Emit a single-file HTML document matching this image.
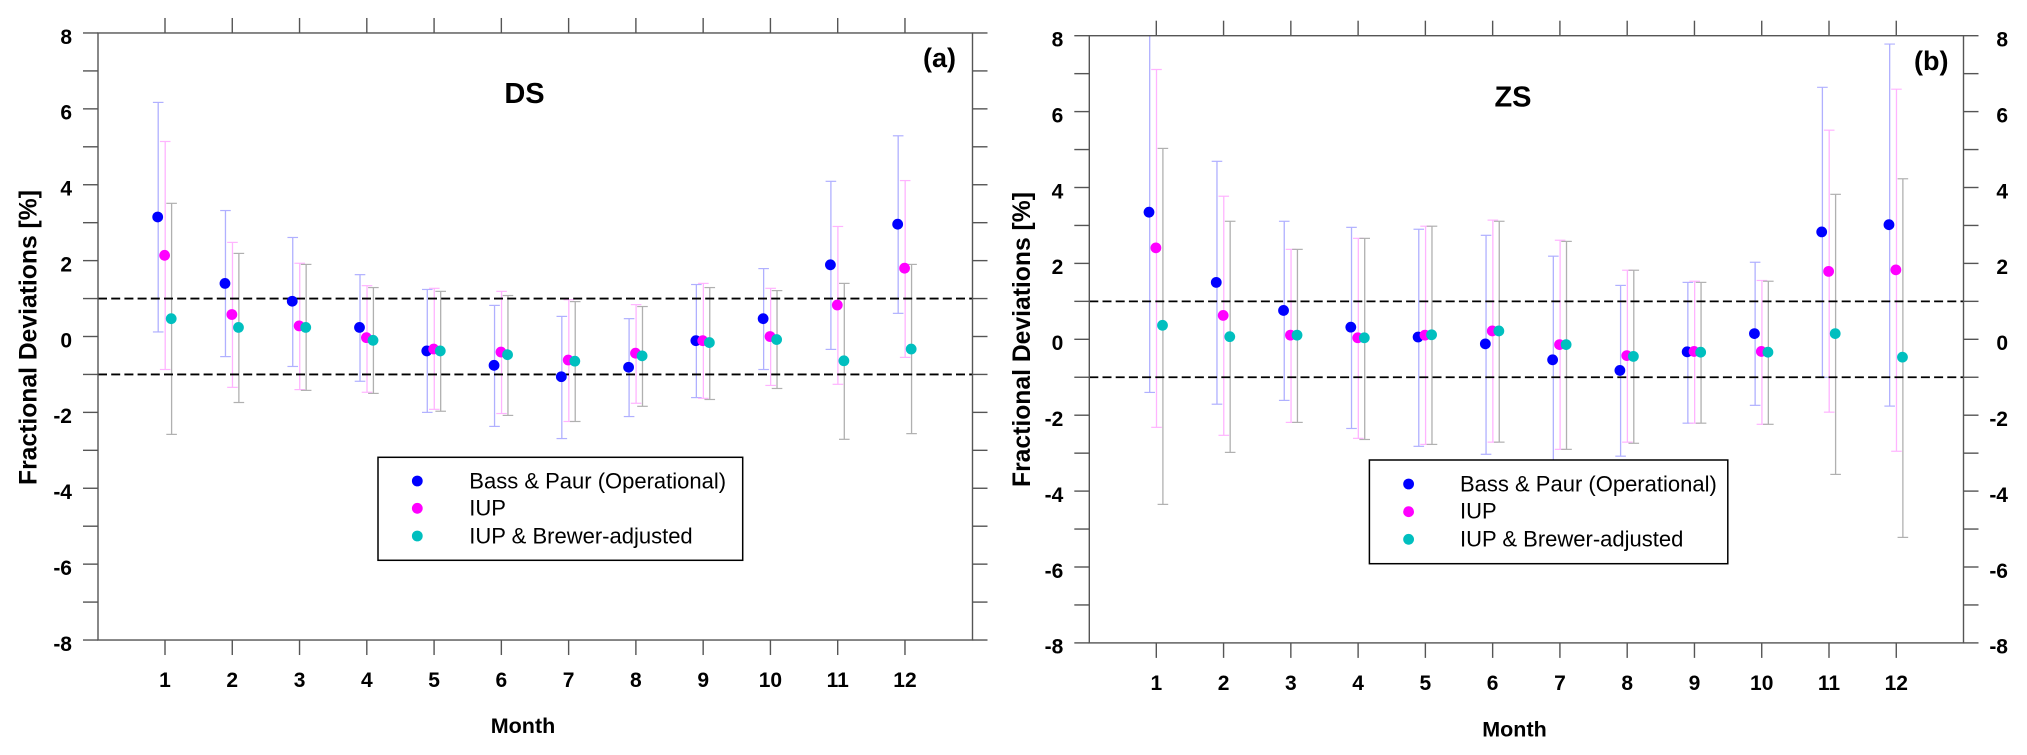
<!DOCTYPE html>
<html lang="en">
<head>
<meta charset="utf-8">
<title>Fractional Deviations by Month: DS and ZS</title>
<style>
  html, body { margin: 0; padding: 0; background: #fff; }
  svg { display: block; }
  text { font-family: "Liberation Sans", Arial, sans-serif; fill: #000; }
  .b { font-weight: bold; }
</style>
</head>
<body>
<svg id="figure" xmlns="http://www.w3.org/2000/svg" width="2027" height="755" viewBox="0 0 2027 755">
  <defs>
    <clipPath id="clip-a"><rect x="98" y="33" width="874.5" height="607"/></clipPath>
    <clipPath id="clip-b"><rect x="1089.3" y="35.3" width="874.2" height="607.4"/></clipPath>
  </defs>
  <g id="panel-a"></g>
  <g id="panel-b"></g>

  <g>
    <text class="b" x="524.5" y="103" font-size="29" text-anchor="middle">DS</text>
    <text class="b" x="939.5" y="67" font-size="27" text-anchor="middle">(a)</text>
    <text class="b" x="523" y="733" font-size="21.5" text-anchor="middle">Month</text>
    <text class="b" transform="translate(36.7 485) rotate(-90)" font-size="24.7">Fractional Deviations [%]</text>
  </g>
  <g>
    <text class="b" x="1513" y="106.5" font-size="29" text-anchor="middle">ZS</text>
    <text class="b" x="1931.3" y="70" font-size="27" text-anchor="middle">(b)</text>
    <text class="b" x="1514.5" y="736.5" font-size="21.5" text-anchor="middle">Month</text>
    <text class="b" transform="translate(1030 487) rotate(-90)" font-size="24.7">Fractional Deviations [%]</text>
  </g>

  <g>
    <rect x="378" y="457.3" width="364.7" height="103" fill="#fff" stroke="#000" stroke-width="1.5"/>
    <circle cx="417.3" cy="481" r="5.4" fill="#0000ff"/>
    <circle cx="417.3" cy="508.3" r="5.4" fill="#ff00ff"/>
    <circle cx="417.3" cy="536" r="5.4" fill="#00bfbf"/>
    <text x="469.3" y="488.3" font-size="22">Bass &amp; Paur (Operational)</text>
    <text x="469.3" y="515.7" font-size="22">IUP</text>
    <text x="469.3" y="543.3" font-size="22">IUP &amp; Brewer-adjusted</text>
  </g>
  <g>
    <rect x="1369.4" y="460" width="358.4" height="103.7" fill="#fff" stroke="#000" stroke-width="1.5"/>
    <circle cx="1408.6" cy="484" r="5.4" fill="#0000ff"/>
    <circle cx="1408.6" cy="511.7" r="5.4" fill="#ff00ff"/>
    <circle cx="1408.6" cy="539.3" r="5.4" fill="#00bfbf"/>
    <text x="1460" y="491.5" font-size="22">Bass &amp; Paur (Operational)</text>
    <text x="1460" y="518.5" font-size="22">IUP</text>
    <text x="1460" y="546.5" font-size="22">IUP &amp; Brewer-adjusted</text>
  </g>
</svg>

<script>
// Shared axis data
const months = [1, 2, 3, 4, 5, 6, 7, 8, 9, 10, 11, 12];
const yTicks = [-8, -7, -6, -5, -4, -3, -2, -1, 0, 1, 2, 3, 4, 5, 6, 7, 8];
const yTickLabels = [-8, -6, -4, -2, 0, 2, 4, 6, 8];
const referenceLines = [1, -1];

// Panel (a) DS
const dsBassMean  = [3.15, 1.40, 0.93, 0.24, -0.38, -0.76, -1.06, -0.81, -0.11, 0.47, 1.89, 2.96];
const dsBassUpper = [6.17, 3.32, 2.61, 1.63, 1.24, 0.82, 0.53, 0.47, 1.37, 1.79, 4.09, 5.29];
const dsBassLower = [0.12, -0.53, -0.79, -1.18, -2.00, -2.37, -2.69, -2.11, -1.61, -0.87, -0.34, 0.61];
const dsIupMean   = [2.14, 0.58, 0.28, -0.03, -0.33, -0.41, -0.62, -0.44, -0.11, 0.00, 0.83, 1.80];
const dsIupUpper  = [5.14, 2.48, 1.93, 1.34, 1.27, 1.19, 0.97, 0.84, 1.40, 1.27, 2.90, 4.11];
const dsIupLower  = [-0.87, -1.34, -1.40, -1.47, -1.92, -2.03, -2.24, -1.76, -1.63, -1.29, -1.26, -0.55];
const dsBrewerMean  = [0.47, 0.24, 0.24, -0.10, -0.38, -0.48, -0.65, -0.51, -0.16, -0.08, -0.64, -0.33];
const dsBrewerUpper = [3.51, 2.19, 1.90, 1.29, 1.19, 1.08, 0.92, 0.79, 1.29, 1.21, 1.40, 1.90];
const dsBrewerLower = [-2.58, -1.74, -1.42, -1.50, -1.97, -2.08, -2.24, -1.84, -1.66, -1.37, -2.71, -2.56];

// Panel (b) ZS
const zsBassMean  = [3.35, 1.50, 0.76, 0.32, 0.06, -0.12, -0.54, -0.82, -0.33, 0.15, 2.83, 3.02];
const zsBassUpper = [8.20, 4.69, 3.11, 2.95, 2.90, 2.74, 2.19, 1.42, 1.50, 2.03, 6.64, 7.78];
const zsBassLower = [-1.40, -1.71, -1.61, -2.35, -2.82, -3.03, -3.27, -3.08, -2.21, -1.74, -1.00, -1.76];
const zsIupMean   = [2.41, 0.63, 0.11, 0.04, 0.11, 0.22, -0.14, -0.43, -0.32, -0.32, 1.79, 1.83];
const zsIupUpper  = [7.11, 3.77, 2.37, 2.66, 2.98, 3.14, 2.61, 1.82, 1.53, 1.55, 5.51, 6.59];
const zsIupLower  = [-2.32, -2.53, -2.19, -2.61, -2.77, -2.71, -2.90, -2.71, -2.21, -2.24, -1.92, -2.95];
const zsBrewerMean  = [0.37, 0.07, 0.11, 0.04, 0.12, 0.22, -0.14, -0.45, -0.34, -0.34, 0.15, -0.47];
const zsBrewerUpper = [5.03, 3.11, 2.37, 2.66, 2.98, 3.11, 2.58, 1.82, 1.50, 1.53, 3.82, 4.23];
const zsBrewerLower = [-4.35, -2.98, -2.19, -2.64, -2.77, -2.71, -2.90, -2.74, -2.21, -2.24, -3.56, -5.22];

const NS = 'http://www.w3.org/2000/svg';

function make(tag, parent, attrs) {
  const el = document.createElementNS(NS, tag);
  for (const k in attrs) el.setAttribute(k, attrs[k]);
  parent.appendChild(el);
  return el;
}

function drawPanel(cfg) {
  const root = document.getElementById(cfg.id);
  const xScale = m => cfg.xFirst + (m - 1) * cfg.xStep;
  const yScale = v => cfg.y0 - v * cfg.yUnit;
  const axisColor = '#555';

  // ticks on the left and right
  yTicks.forEach(t => {
    const y = yScale(t);
    const left = make('line', root, { x1: cfg.left - 15, x2: cfg.left, y1: y, y2: y, stroke: axisColor, 'stroke-width': 1.4 });
    
    
    const right = make('line', root, { x1: cfg.right, x2: cfg.right + 15, y1: y, y2: y, stroke: axisColor, 'stroke-width': 1.4 });
    
    
  });

  // ticks on the top and bottom, and month labels
  months.forEach(m => {
    const x = xScale(m);
    const top = make('line', root, { x1: x, x2: x, y1: yScale(8) - 15, y2: yScale(8), stroke: axisColor, 'stroke-width': 1.4 });
    
    
    const bottom = make('line', root, { x1: x, x2: x, y1: yScale(-8), y2: yScale(-8) + 15, stroke: axisColor, 'stroke-width': 1.4 });
    
    
    const label = make('text', root, { x: x, y: yScale(-8) + 47, 'font-size': 21, 'font-weight': 'bold', 'text-anchor': 'middle' });
    label.textContent = m;
    
    
  });

  // y tick labels
  yTickLabels.forEach(t => {
    const left = make('text', root, { x: cfg.left - 26, y: yScale(t) + 10.8, 'font-size': 21, 'font-weight': 'bold', 'text-anchor': 'end' });
    left.textContent = t;
    
    
    if (cfg.rightLabels) {
      const right = make('text', root, { x: cfg.rightLabelX, y: yScale(t) + 10.8, 'font-size': 21, 'font-weight': 'bold', 'text-anchor': 'end' });
      right.textContent = t;
      
      
    }
  });

  // error bars
  const bars = make('g', root, { 'clip-path': 'url(#' + cfg.clip + ')' });
  
  
  cfg.series.forEach(s => {
    months.forEach((m, i) => {
      const x = xScale(m) + s.barOffset;
      const hi = yScale(s.upper[i]);
      const lo = yScale(s.lower[i]);
      const stem = make('line', bars, { x1: x, x2: x, y1: hi, y2: lo, stroke: s.barColor, 'stroke-width': 1.3 });
      
      
      const capHi = make('line', bars, { x1: x - 5.3, x2: x + 5.3, y1: hi, y2: hi, stroke: s.barColor, 'stroke-width': 1.2 });
      
      
      const capLo = make('line', bars, { x1: x - 5.3, x2: x + 5.3, y1: lo, y2: lo, stroke: s.barColor, 'stroke-width': 1.2 });
      
      
    });
  });

  // reference lines
  referenceLines.forEach(v => {
    const ref = make('line', root, { x1: cfg.left, x2: cfg.right, y1: yScale(v), y2: yScale(v), stroke: '#000', 'stroke-width': 1.8, 'stroke-dasharray': '9 4.2' });
    
    
  });

  // frame
  const frame = make('rect', root, { x: cfg.left, y: yScale(8), width: cfg.right - cfg.left, height: yScale(-8) - yScale(8), fill: 'none', stroke: axisColor, 'stroke-width': 1.4 });
  
  

  // markers
  cfg.series.forEach(s => {
    months.forEach((m, i) => {
      const dot = make('circle', root, { cx: xScale(m) + s.dotOffset, cy: yScale(s.mean[i]), r: 5.4, fill: s.color });
      
      
    });
  });
}

drawPanel({
  id: 'panel-a', clip: 'clip-a', left: 98, right: 972.5, y0: 336.5, yUnit: 37.94,
  xFirst: 165, xStep: 67.27, rightLabels: false,
  series: [
    { key: 'bass-paur', mean: dsBassMean, upper: dsBassUpper, lower: dsBassLower, color: '#0000ff', barColor: '#b0b0ff', dotOffset: -7.3, barOffset: -6.8 },
    { key: 'iup', mean: dsIupMean, upper: dsIupUpper, lower: dsIupLower, color: '#ff00ff', barColor: '#ffb4ff', dotOffset: -0.4, barOffset: 0.2 },
    { key: 'iup-brewer', mean: dsBrewerMean, upper: dsBrewerUpper, lower: dsBrewerLower, color: '#00bfbf', barColor: '#b0b0b0', dotOffset: 6.2, barOffset: 6.6 }
  ]
});

drawPanel({
  id: 'panel-b', clip: 'clip-b', left: 1089.3, right: 1963.5, y0: 339.3, yUnit: 37.95,
  xFirst: 1156.3, xStep: 67.27, rightLabels: true, rightLabelX: 2008,
  series: [
    { key: 'bass-paur', mean: zsBassMean, upper: zsBassUpper, lower: zsBassLower, color: '#0000ff', barColor: '#b0b0ff', dotOffset: -7.3, barOffset: -6.6 },
    { key: 'iup', mean: zsIupMean, upper: zsIupUpper, lower: zsIupLower, color: '#ff00ff', barColor: '#ffb4ff', dotOffset: -0.4, barOffset: 0.2 },
    { key: 'iup-brewer', mean: zsBrewerMean, upper: zsBrewerUpper, lower: zsBrewerLower, color: '#00bfbf', barColor: '#b0b0b0', dotOffset: 6.2, barOffset: 6.6 }
  ]
});
</script>
</body>
</html>
